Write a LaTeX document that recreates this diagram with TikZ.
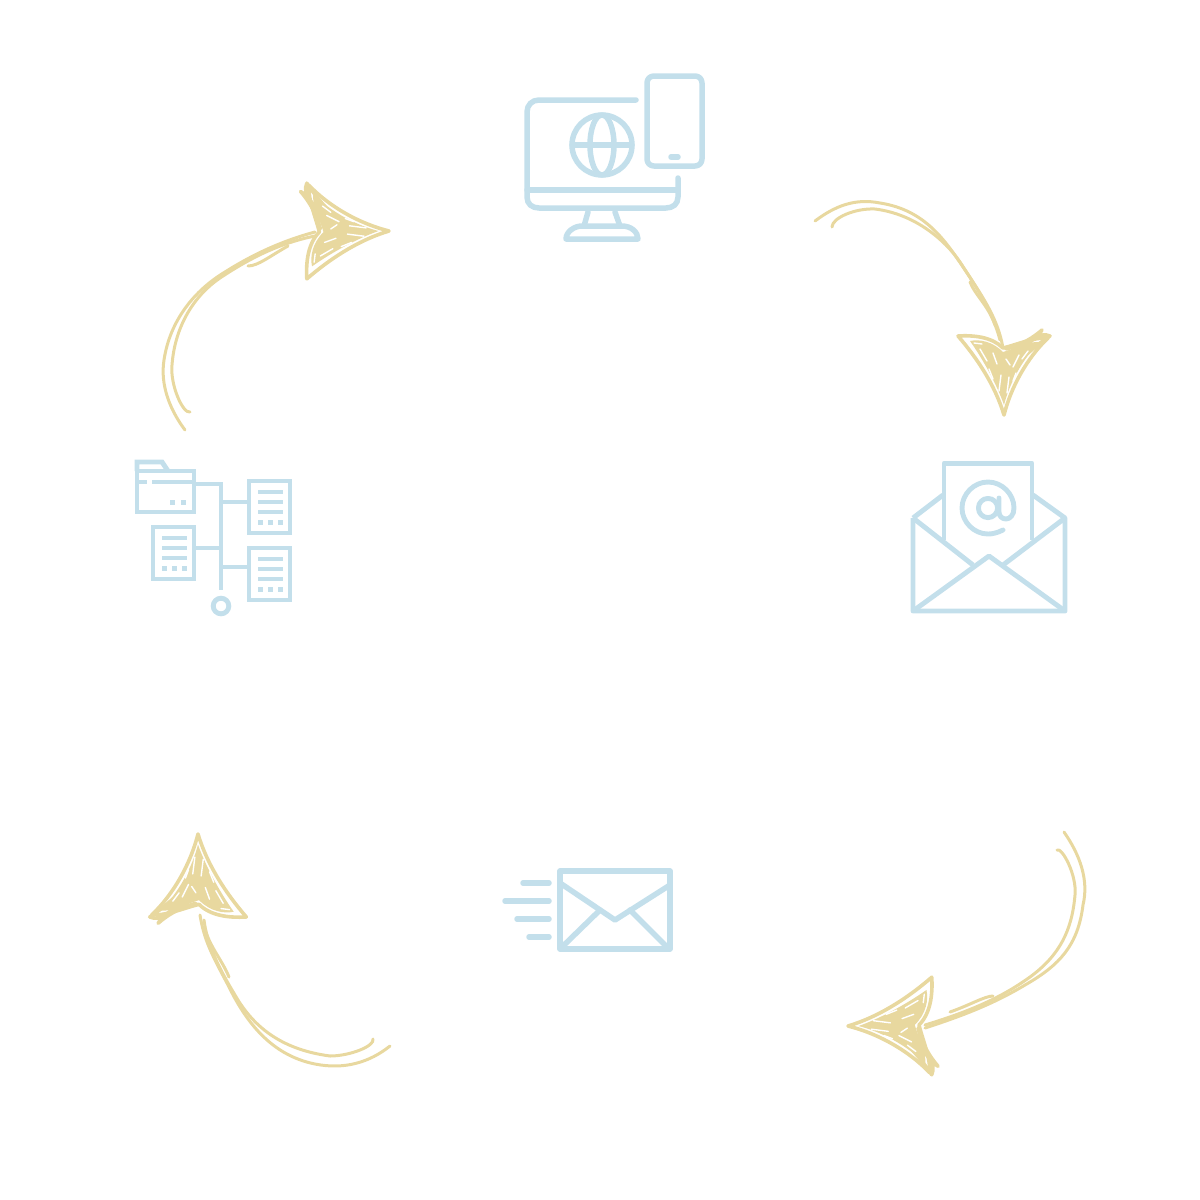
\documentclass[tikz,border=0pt]{standalone}
\definecolor{iconblue}{HTML}{C3DFEB}
\definecolor{sand}{HTML}{E8D89F}
\tikzset{
  icon/.style={draw=iconblue,line width=2.75pt,line cap=round,line join=round},
  iconsq/.style={draw=iconblue,line width=2.45pt,line cap=butt,line join=miter},
  iconthin/.style={draw=iconblue,line width=2.45pt,line cap=butt,line join=round},
  stem/.style={draw=sand,line width=1.5pt,line cap=round,line join=round},
  headline/.style={draw=sand,line width=1.8pt,line cap=round,line join=round},
  slit/.style={draw=white,line width=0.7pt,line cap=round},
}
\newcommand{\docicon}[2]{%
  \begin{scope}[shift={(#1,#2)}]
    \draw[iconsq] (0,0) rectangle (41,52);
    \draw[iconsq] (9,11) -- (34,11) (9,21) -- (34,21) (9,31) -- (34,31);
    \foreach \q in {11,21,31} \fill[iconblue] (\q-2.5,38.5) rectangle (\q+2.5,43.5);
  \end{scope}}
\newcommand{\scribhead}[4]{%
  \begin{scope}[shift={(#1,#2)},rotate=#3,scale=#4]
    \draw[headline] (-46,-79) .. controls (-27,-57) and (-9,-30) .. (0,0)
      .. controls (7,-28) and (23,-57) .. (44,-77) .. controls (30,-78) and (12,-70) .. (-1,-67)
      .. controls (-12,-78) and (-30,-80) .. cycle;
    \fill[sand] (-34,-74) .. controls (-20,-54) and (-7,-30) .. (0,-10)
      .. controls (5,-30) and (18,-56) .. (36,-73) .. controls (24,-74) and (10,-66) .. (-1,-63)
      .. controls (-12,-74) and (-25,-76) .. cycle;
    \draw[headline] (2,-66) .. controls (18,-70) and (30,-78) .. (38,-85)
      .. controls (34,-78) and (24,-72) .. (12,-62)
      (10,-66) .. controls (25,-72) and (35,-84) .. (46,-79)
      .. controls (38,-74) and (26,-64) .. (16,-55);
    \draw[slit] (-24,-66) -- (-17,-54) (-11,-62) -- (-7,-51) (15,-60) -- (9,-48)
      (24,-64) -- (18,-56) (-3,-40) -- (-5,-24) (5,-38) -- (3,-22) (-15,-46) -- (-11,-36)
      (12,-42) -- (9,-34) (-30,-72) -- (-22,-71) (2,-56) -- (6,-50);
  \end{scope}}
\begin{document}
\begin{tikzpicture}[x=0.5pt,y=-0.5pt]
\useasboundingbox (0,0) rectangle (1200,1200);

% --- computer and phone
\draw[icon] (636,100) -- (539,100) .. controls (532,100) and (527,105) .. (527,112)
  -- (527,197) .. controls (527,204) and (532,208) .. (539,208)
  -- (666,208) .. controls (673,208) and (678,204) .. (678,197) -- (678,178);
\draw[icon] (527,190) -- (678,190);
\draw[icon] (588,212) -- (584,226) (615,212) -- (620,226);
\draw[icon] (566,239) .. controls (566,232) and (574,226) .. (582,226) -- (622,226)
  .. controls (631,226) and (638,232) .. (638,239) -- cycle;
\draw[icon] (654,76) -- (695,76) .. controls (699,76) and (702,79) .. (702,83)
  -- (702,159) .. controls (702,163) and (699,166) .. (695,166) -- (654,166)
  .. controls (650,166) and (647,163) .. (647,159) -- (647,83)
  .. controls (647,79) and (650,76) .. (654,76) -- cycle;
\draw[icon] (671,157) -- (678,157);
\draw[icon] (602,145) circle[radius=15pt];
\draw[icon] (602,145) ellipse[x radius=6pt,y radius=15pt];
\draw[icon] (572,145) -- (632,145);

% --- folder tree
\draw[iconsq] (137,471) rectangle (194,512);
\draw[iconsq] (137,471) -- (137,462) -- (162,462) -- (168,471);
\draw[iconsq] (137,482) -- (147,482) (152,482) -- (194,482);
\foreach \q in {172,183} \fill[iconblue] (\q-2.5,499.5) rectangle (\q+2.5,504.5);
\draw[iconsq] (194,484) -- (221,484) -- (221,590);
\draw[iconsq] (221,502) -- (248,502) (221,567) -- (248,567) (194,548) -- (221,548);
\docicon{249}{481}
\docicon{249}{548}
\docicon{153}{527}
\draw[iconsq] (221,606) circle[radius=3.9pt];

% --- open envelope
\draw[iconthin] (944,540) -- (944,463.5) -- (1032,463.5) -- (1032,540);
\draw[iconthin] (913,518) -- (913,611) -- (1065,611) -- (1065,518) -- (1003,565);
\draw[iconthin] (913,518) -- (973,565);
\draw[iconthin] (913,518) -- (943,495) (1065,518) -- (1033,495);
\draw[iconthin] (913,611) -- (989,556) -- (1065,611);
\draw[icon,line width=2.45pt] (988,508) circle[radius=4.8pt];
\draw[icon,line width=2.45pt] (1003,530) .. controls (997,533) and (992,534) .. (988,534)
  .. controls (974,534) and (962,522) .. (962,508)
  .. controls (962,494) and (974,482) .. (988,482)
  .. controls (1002,482) and (1014,494) .. (1014,508)
  .. controls (1014,515) and (1010,519) .. (1006,519)
  .. controls (1002,519) and (999,516) .. (999,512) -- (999,498);

% --- sent envelope
\draw[icon] (560,871) rectangle (670,949);
\draw[icon] (560,883) -- (615,920) -- (670,885);
\draw[icon] (562,947) -- (600,910) (667,947) -- (630,910);
\draw[icon] (523,883) -- (549,883) (505,901) -- (549,901) (517,919) -- (549,919) (529,937) -- (549,937);

% --- arrow top right
\draw[stem] (815,221) .. controls (835,206) and (855,198) .. (880,203)
  .. controls (925,210) and (945,240) .. (965,270) .. controls (985,300) and (998,320) .. (1003,348);
\draw[stem] (832,227) .. controls (832,218) and (855,208) .. (875,209)
  .. controls (915,214) and (945,240) .. (960,262) .. controls (975,285) and (992,310) .. (1000,340);
\draw[stem] (970,282) .. controls (975,295) and (988,305) .. (995,325);
\scribhead{1004}{415}{0}{1}

% --- arrow bottom right
\draw[stem] (1064,832) .. controls (1080,855) and (1089,880) .. (1083,905)
  .. controls (1078,945) and (1060,965) .. (1025,985) .. controls (995,1003) and (965,1015) .. (925,1028);
\draw[stem] (1057,850) .. controls (1062,847) and (1077,875) .. (1075,895)
  .. controls (1072,930) and (1060,955) .. (1030,977) .. controls (1005,995) and (975,1010) .. (925,1025);
\draw[stem] (993,996) .. controls (985,996) and (970,1005) .. (950,1012);
\scribhead{848}{1026}{-90}{1.06}

% --- arrow bottom left
\draw[stem] (390,1046) .. controls (370,1062) and (345,1070) .. (315,1064)
  .. controls (270,1055) and (245,1020) .. (228,985) .. controls (212,955) and (204,940) .. (200,915);
\draw[stem] (373,1039) .. controls (375,1046) and (350,1056) .. (330,1056)
  .. controls (285,1050) and (255,1030) .. (235,995) .. controls (220,970) and (207,945) .. (204,920);
\draw[stem] (229,977) .. controls (222,960) and (212,950) .. (205,930);
\scribhead{198}{834}{180}{1.05}

% --- arrow top left
\draw[stem] (185,430) .. controls (170,410) and (160,385) .. (164,360)
  .. controls (170,320) and (195,290) .. (225,272) .. controls (255,253) and (285,240) .. (315,232);
\draw[stem] (190,412) .. controls (183,414) and (170,385) .. (172,365)
  .. controls (175,325) and (195,295) .. (220,278) .. controls (250,258) and (280,243) .. (315,236);
\draw[stem] (248,266) .. controls (258,266) and (270,256) .. (288,246);
\scribhead{389}{231}{90}{1.04}
\end{tikzpicture}
\end{document}
